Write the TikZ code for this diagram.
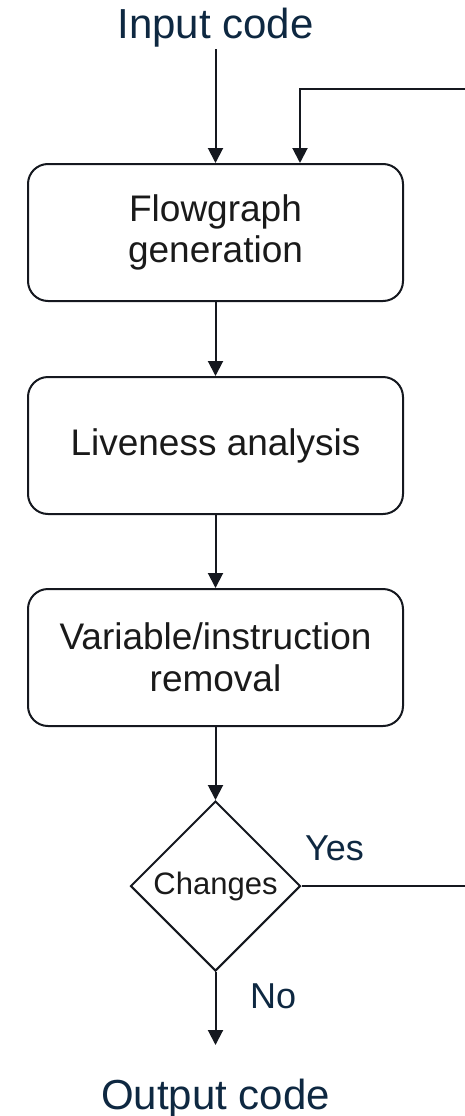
\documentclass[tikz,border=0pt]{standalone}
\usepackage{fontspec}
\setmainfont{Liberation Sans}
\usetikzlibrary{positioning,shapes.geometric,arrows.meta}
\definecolor{navy}{HTML}{0E2841}
\definecolor{ink}{HTML}{1A1A1A}
\definecolor{edge}{HTML}{15181F}
\tikzset{
  stage/.style={draw=edge,line width=2pt,rounded corners=20pt,minimum width=375pt,
    minimum height=137pt,inner sep=0pt,align=center,text=ink,
    font=\fontsize{37}{41.5}\selectfont},
  flow/.style={draw=edge,line width=2pt,-{Triangle[width=15pt,length=15pt]}},
  io/.style={text=navy,inner sep=1.5pt,font=\fontsize{42}{46}\selectfont},
  branch/.style={text=navy,inner sep=0pt,anchor=base west,font=\fontsize{36}{40}\selectfont}
}
\begin{document}
\begin{tikzpicture}[x=1pt,y=-1pt]
\useasboundingbox (0,0) rectangle (464,1116);

% The stages
\node[io,anchor=base] (in) at (215.5,39) {Input code};
\node[stage] (fg) at (215.5,232.5) {Flowgraph\\generation};
\node[stage,below=74pt of fg] (lv) {Liveness analysis};
\node[stage,below=73pt of lv] (vr) {Variable/instruction\\removal};
\node[diamond,draw=edge,line width=2pt,aspect=1,minimum width=170pt,minimum height=170pt,
  inner sep=0pt,text=ink,font=\fontsize{31}{34}\selectfont,below=73pt of vr] (dec) {Changes};
\node[io,anchor=base] (out) at (215.5,1109) {Output code};
\coordinate (stop) at (215.5,1045);
\coordinate (rgt) at (468,89);

% The arrows
\draw[flow] (in.south) -- (fg.north);
\draw[flow] (fg) -- (lv);
\draw[flow] (lv) -- (vr);
\draw[flow] (vr) -- (dec);
\draw[flow] (dec.south) -- (stop);
\draw[flow] (dec.east) -| (rgt) -| ([xshift=84.5pt]fg.north);

\node[branch] (yes) at (305,860) {Yes};
\node[branch] (no) at (250,1008) {No};

\end{tikzpicture}
\end{document}
